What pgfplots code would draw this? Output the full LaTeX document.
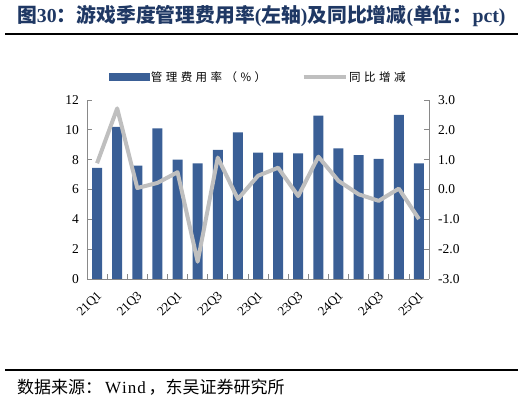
\documentclass[border=0pt]{standalone}
\usepackage{fontspec}
\setmainfont{Liberation Serif}
\newfontfamily\cjk{Noto Sans CJK SC}
\newfontfamily\cjkleg[LetterSpace=30]{Noto Sans CJK SC}
\usepackage{pgfplots}
\pgfplotsset{compat=1.18}
\definecolor{barblue}{RGB}{58,95,150}
\definecolor{linegray}{RGB}{191,191,191}
\definecolor{titleblue}{RGB}{31,56,100}
\definecolor{axgray}{RGB}{137,137,137}
\newcommand\T[1]{{\cjk\bfseries #1}}

\begin{document}
\begin{tikzpicture}[x=1bp,y=1bp]
\path[use as bounding box] (0,0) rectangle (524,403);
\node[anchor=west, inner sep=0, text=titleblue] at (17,387.5)
  {\fontsize{19.8bp}{22bp}\selectfont\bfseries \T{图}30\T{：游戏季度管理费用率}(\T{左轴})\T{及同比增减}(\T{单位：}pct)};
\draw[line width=1.8bp] (5,369) -- (518,369);
\draw[line width=1.8bp] (5,33) -- (518,33);
\node[anchor=west, inner sep=0] at (17,16)
  {\fontsize{17bp}{20bp}\selectfont{\cjk 数据来源：}\,W\kern1bp i\kern1bp n\kern1bp d\,{\cjk ，东吴证券研究所}};

\begin{axis}[
  at={(87bp,124bp)}, anchor=south west,
  scale only axis, width=342bp, height=179bp,
  xmin=-0.5, xmax=16.5, ymin=0, ymax=12,
  axis x line*=bottom, axis y line*=left,
  axis line style={axgray, line width=0.7bp},
  ytick={0,2,...,12},
  ytick style={axgray, line width=0.7bp},
  major tick length=5bp,
  tick align=inside,
  xtick={0,2,...,16},
  xticklabels={21Q1,21Q3,22Q1,22Q3,23Q1,23Q3,24Q1,24Q3,25Q1},
  xtick style={draw=none},
  xticklabel style={font=\fontsize{13bp}{15bp}\selectfont, inner sep=0pt, anchor=east, yshift=-15bp, xshift=3bp, rotate=45},
  yticklabel style={font=\fontsize{13.5bp}{15bp}\selectfont, inner sep=0pt, xshift=-8bp},
  /pgf/number format/assume math mode=true,
]
\addplot[ybar, bar width=10bp, fill=barblue, draw=none] coordinates {
(0,7.45) (1,10.2) (2,7.6) (3,10.1) (4,8.0) (5,7.75) (6,8.65) (7,9.83) (8,8.47)
(9,8.48) (10,8.42) (11,10.95) (12,8.75) (13,8.3) (14,8.05) (15,11.0) (16,7.75)};
\end{axis}

\begin{axis}[
  at={(87bp,124bp)}, anchor=south west,
  scale only axis, width=342bp, height=179bp,
  xmin=-0.5, xmax=16.5, ymin=-3, ymax=3,
  axis x line*=bottom, axis y line*=right,
  axis line style={axgray, line width=0.7bp},
  xtick={-0.5,0.5,...,16.5}, xticklabels={},
  xtick style={axgray, line width=0.7bp},
  ytick={-3,-2,...,3},
  ytick style={axgray, line width=0.7bp},
  major tick length=5bp,
  tick align=inside,
  yticklabel style={font=\fontsize{13.5bp}{15bp}\selectfont, inner sep=0pt, xshift=9bp,
    /pgf/number format/.cd, fixed, fixed zerofill, precision=1},
  /pgf/number format/assume math mode=true,
  legend columns=2,
  legend style={at={(0.5,1)}, anchor=center, yshift=23bp, draw=none, fill=none,
    font=\fontsize{11.5bp}{13bp}\selectfont\cjkleg,
    /tikz/every even column/.append style={column sep=34bp},
    nodes={inner sep=1.5bp}},
]
\addlegendimage{legend image code/.code={\fill[barblue] (0bp,-3.5bp) rectangle (40bp,3.5bp);}}
\addlegendentry{管理费用率（\%）}
\addplot[linegray, line width=4bp, line join=round, no markers,
  legend image code/.code={\draw[linegray, line width=4bp] (0bp,0bp) -- (42bp,0bp);}]
  coordinates {
(0,0.88) (1,2.72) (2,0.05) (3,0.22) (4,0.58) (5,-2.42) (6,1.07) (7,-0.32) (8,0.46)
(9,0.73) (10,-0.22) (11,1.1) (12,0.29) (13,-0.16) (14,-0.38) (15,0.03) (16,-0.99)};
\addlegendentry{同比增减}
\end{axis}
\end{tikzpicture}
\end{document}
